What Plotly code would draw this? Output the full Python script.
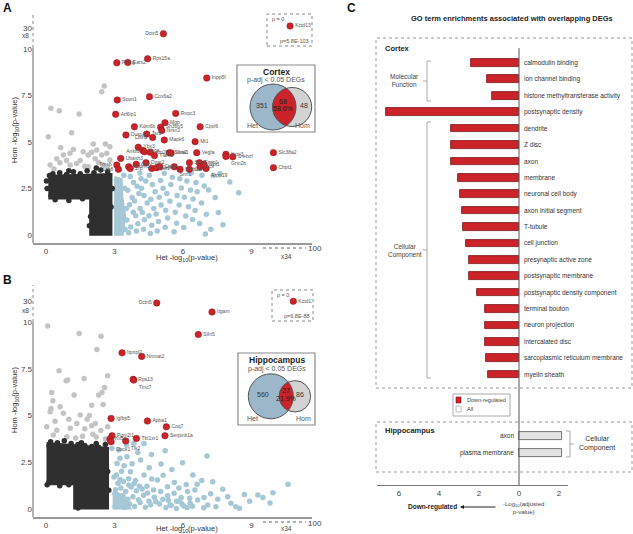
import numpy as np
import plotly.graph_objects as go

W, H = 633, 534
FONT = "Arial, Liberation Sans, sans-serif"

RED = "#cc2229"
RED_EDGE = "#8e1a1e"
BLUE = "#a6c7d5"
GRAY = "#c4c4c4"
DARK = "#2f2f2f"

# ---------------- Panel A : Cortex ----------------
a_red_genes = ["Dctn5", "Kctd13", "Prkcg", "Ears2", "Rps15a", "Inpp5f", "Spon1", "Cox6a2",
               "Arl6ip1", "Rnpc3", "Kdm6b", "Mgp", "Sh3bp5", "Nrsn2", "Cpsf6", "Dusp1",
               "Tsr1", "Cbln2", "Mapk6", "Mt1", "Ybx3", "Hpca", "Ankrd", "Atp2b", "Tiam1",
               "Sms2", "Gria1", "Vegfa", "Ubash3", "Tmsb", "Lrp8", "Smim10", "Zfp", "Gpr",
               "Dgat2", "Nptx1", "Celsr3", "Cttn3", "Snrf1", "Sorbs1", "Scn2", "Cat",
               "Fzgp1", "Dcx", "Arpp19", "Cpt1", "Kcnj3", "Grin2b", "Crebzf", "Slc38a2", "Chpt1"]
a_red_x = [5.14, 10.69, 3.10, 3.58, 4.45, 7.04, 3.12, 4.53, 3.05, 5.68, 3.87, 5.21, 5.02, 5.07,
           6.75, 3.50, 4.41, 4.67, 5.18, 6.53, 4.04, 4.24, 4.31, 4.56, 4.75, 5.40, 5.48, 6.60,
           3.27, 3.10, 3.17, 3.62, 3.69, 3.95, 4.38, 4.63, 4.84, 4.98, 5.62, 5.87, 6.28, 6.28,
           6.72, 6.75, 7.01, 6.92, 7.88, 7.88, 8.18, 9.96, 9.96]
a_red_y = [10.82, 11.24, 9.26, 9.28, 9.48, 8.44, 7.26, 7.44, 6.49, 6.54, 5.82, 6.04, 5.80, 5.62,
           5.82, 5.38, 5.43, 5.24, 5.11, 5.02, 4.72, 4.55, 4.48, 4.45, 4.27, 4.43, 4.41, 4.43,
           4.12, 3.76, 3.53, 3.67, 3.58, 3.80, 3.89, 3.58, 3.62, 3.67, 3.67, 3.53, 3.89, 3.53,
           3.89, 3.67, 3.58, 3.80, 4.34, 4.22, 4.21, 4.43, 3.62]

a_gray_x = [2.55, 2.44, 0.21, 0.58, 1.45, 0.10, 1.12, 2.07, 2.80, 0.64, 0.76, 1.05, 1.63, 1.85,
            2.00, 2.22, 2.44, 2.66, 0.61, 0.18, 1.05, 1.34, 1.85, 2.51, 2.80, 0.47, 1.50, 2.30,
            0.90, 2.70, 1.70, 0.35, 2.15, 1.20, 2.60]
a_gray_y = [8.01, 7.71, 6.81, 6.68, 6.51, 5.29, 5.50, 4.89, 4.75, 4.71, 4.30, 4.39, 4.48, 4.30,
            4.45, 4.57, 4.30, 4.39, 3.89, 3.76, 3.76, 3.85, 3.67, 3.76, 4.03, 4.10, 4.00, 3.90,
            4.00, 3.60, 3.70, 3.55, 4.10, 4.60, 4.90]

a_blue_x = [3.62, 3.71, 3.54, 3.82, 3.66, 3.77, 3.58, 3.83, 3.69, 3.96, 4.02, 3.93, 4.12, 3.88,
            4.07, 3.99, 4.16, 4.27, 4.31, 4.22, 4.43, 4.29, 4.18, 4.37, 4.52, 4.57, 4.63, 4.51,
            4.72, 4.59, 4.78, 4.66, 4.87, 4.93, 4.82, 5.04, 4.96, 5.13, 5.02, 5.22, 5.33, 5.24,
            5.43, 5.29, 5.47, 5.53, 5.61, 5.72, 5.66, 5.83, 5.74, 5.93, 5.86, 6.03, 6.12, 6.24,
            6.06, 6.33, 6.17, 6.42, 6.53, 6.44, 6.62, 6.57, 6.73, 6.81, 6.93, 7.12, 7.33, 7.02,
            7.55, 7.22, 7.41, 8.44, 6.83, 7.62, 3.46, 3.52, 3.44, 3.41, 4.11, 5.18, 6.36, 8.05,
            6.98, 7.75]
a_blue_y = [0.12, 0.43, 0.81, 1.22, 1.63, 2.02, 2.41, 2.83, 3.14, 0.22, 0.61, 1.04, 1.42, 1.83,
            2.23, 2.62, 3.03, 0.31, 0.82, 1.21, 1.72, 2.13, 2.52, 2.91, 3.22, 0.08, 0.52, 1.03,
            1.43, 1.92, 2.33, 2.71, 0.21, 0.72, 1.13, 1.62, 2.03, 2.52, 2.93, 0.42, 0.91, 1.33,
            1.82, 2.23, 2.72, 3.11, 0.18, 0.63, 1.23, 1.61, 2.12, 2.53, 3.02, 0.41, 1.02, 1.52,
            2.03, 2.42, 2.91, 0.83, 1.32, 1.93, 2.32, 2.83, 0.62, 1.72, 2.63, 2.42, 3.21, 1.12,
            1.21, 0.31, 2.02, 2.27, 3.22, 3.31, 0.31, 1.42, 2.52, 3.22, 3.33, 3.32, 3.35, 2.85,
            0.05, 0.55]
a_blue_core_x = [2.98, 3.30, 3.40, 3.28, 3.25, 2.98]
a_blue_core_y = [0.10, 0.10, 1.00, 2.00, 2.95, 3.05]

a_dark_core_x = [0.10, 2.00, 2.00, 2.80, 2.80, 0.10]
a_dark_core_y = [2.05, 2.05, 0.10, 0.10, 3.20, 3.10]
a_dark_x = [0.30, 0.60, 0.90, 1.20, 1.50, 1.80, 2.10, 2.40, 2.70, 0.15, 1.00, 2.20, 0.40, 1.00,
            1.60, 0.05, 0.02, 2.85, 2.90, 1.95, 1.90]
a_dark_y = [3.30, 3.35, 3.25, 3.40, 3.30, 3.45, 3.35, 3.50, 3.40, 3.20, 3.45, 3.60, 1.90, 1.85,
            1.95, 2.50, 2.90, 1.50, 2.50, 1.00, 0.50]

# ---------------- Panel B : Hippocampus ----------------
b_red_genes = ["Dctn5", "Itgam", "Slfn5", "Itpripl2", "Nmnat2", "Rps13", "Tmc7", "Igfbp5",
               "Apba1", "Coq7", "Serpinb1a", "Tbl1xr1", "Tlk2", "Pgm2l1", "Kif5c", "Dock1", "Kctd13"]
b_red_x = [4.85, 7.27, 6.67, 3.33, 4.19, 3.82, 3.84, 2.85, 4.44, 5.27, 5.21, 3.96, 3.49, 2.89,
           2.80, 2.85, 10.83]
b_red_y = [11.03, 10.55, 9.34, 8.36, 8.17, 6.94, 6.90, 4.85, 4.71, 4.40, 3.92, 3.78, 3.64, 3.92,
           3.74, 3.60, 11.12]

b_gray_x = [0.07, 1.45, 2.41, 2.23, 0.57, 0.88, 1.67, 1.23, 2.70, 2.56, 0.25, 2.00, 0.62, 0.18,
            0.76, 1.50, 1.35, 2.16, 0.03, 0.47, 1.06, 1.70, 2.00, 2.40, 0.32, 0.91, 1.60, 2.20,
            2.60, 1.90, 2.50, 0.40, 1.00, 0.95, 1.80, 2.70, 0.30, 1.30, 2.05, 0.22, 2.45, 2.30]
b_gray_y = [9.80, 9.39, 9.25, 8.54, 7.40, 6.86, 6.99, 6.10, 7.13, 6.51, 6.24, 5.56, 5.47, 5.20,
            5.12, 5.03, 4.58, 4.58, 4.40, 4.22, 4.32, 4.30, 4.45, 4.20, 3.96, 3.87, 3.90, 3.85,
            3.75, 5.00, 5.60, 4.70, 4.80, 6.90, 4.80, 4.40, 5.80, 3.80, 4.00, 5.38, 6.24, 6.10]

b_blue_x = [7.05, 5.98, 7.30, 7.74, 8.69, 9.28, 9.94, 10.60, 9.50, 8.10, 8.47, 7.96, 7.44, 7.08,
            6.64, 6.20, 5.61, 5.32, 4.88, 4.29, 3.70, 4.14, 3.55, 3.19, 4.29, 3.85, 3.11, 2.89,
            5.12, 5.43, 5.72, 6.03, 6.31, 6.92, 5.02, 5.33, 5.92, 6.52, 3.62, 3.92, 4.63, 5.13,
            5.62, 6.14, 3.42, 3.77, 4.52, 5.04, 5.51, 6.43, 3.24, 4.62, 6.82, 7.52, 8.92, 9.81,
            6.91, 5.22, 3.52, 4.02, 3.08, 3.31, 4.42, 4.71, 5.82, 6.62, 7.21, 8.31,
            3.02, 3.21, 3.43, 3.66, 3.88, 4.12, 4.35, 4.58, 4.81, 3.12, 3.36, 3.58, 3.81, 4.05,
            4.27, 4.51, 4.74, 4.97, 3.05, 3.28, 3.49, 3.73, 3.96, 4.21, 4.45, 3.15, 3.39, 3.63,
            3.86, 4.09, 2.98, 3.24, 5.25, 5.48, 5.71, 5.95, 6.18, 6.41, 5.36, 5.84, 6.29]
b_blue_y = [2.83, 2.48, 1.46, 1.05, 0.78, 0.75, 0.87, 1.32, 0.62, 0.30, 0.04, 0.66, 0.12, 0.21,
            0.48, 0.93, 0.84, 1.19, 1.55, 1.82, 1.99, 2.62, 2.80, 3.16, 3.51, 3.51, 2.44, 3.24,
            0.52, 0.21, 0.41, 0.16, 0.32, 0.61, 0.93, 0.71, 0.62, 1.02, 1.62, 1.52, 1.61, 1.81,
            1.42, 1.31, 2.31, 2.42, 2.21, 2.41, 2.12, 1.82, 2.72, 2.92, 1.52, 0.52, 0.42, 0.32,
            0.06, 3.12, 3.42, 3.02, 1.82, 2.02, 1.22, 1.02, 1.12, 1.32, 0.82, 0.12,
            0.12, 0.31, 0.08, 0.27, 0.13, 0.34, 0.09, 0.22, 0.38, 0.58, 0.71, 0.52, 0.66, 0.49,
            0.74, 0.41, 0.63, 0.27, 1.03, 1.12, 0.94, 1.18, 0.97, 1.07, 0.86, 1.38, 1.47, 1.29,
            1.36, 1.22, 1.71, 1.58, 0.07, 0.19, 0.03, 0.26, 0.08, 0.14, 0.47, 0.42, 0.58]
b_blue_core_x = [2.92, 3.60, 3.40, 2.92]
b_blue_core_y = [0.10, 0.10, 0.60, 0.90]

b_dark_core_x = [0.02, 1.30, 1.30, 2.65, 2.65, 0.02]
b_dark_core_y = [1.40, 1.40, 0.10, 0.10, 3.20, 3.45]
b_dark_x = [0.20, 0.50, 0.80, 1.10, 1.40, 1.70, 2.00, 2.30, 2.60, 0.05, 0.60, 1.00, 1.40, 2.70,
            2.75, 1.55, 2.20]
b_dark_y = [3.60, 3.55, 3.65, 3.50, 3.45, 3.40, 3.35, 3.30, 3.45, 1.30, 1.25, 1.30, 0.05, 2.00,
            1.00, 3.55, 3.50]

# axis tick labels (scatter panels)
sc_xtick_vals = [0, 3, 6, 9]
sc_xtick_text = ["0", "3", "6", "9"]
sc_ytick_vals = [0, 2.5, 5, 7.5, 10, 11.13]
sc_ytick_text = ["0", "2.5", "5", "7.5", "10", "30"]

# Venn counts
venn_cortex = {"het": "351", "both": "68", "pct": "58.6%", "hom": "48"}
venn_hippo = {"het": "560", "both": "27", "pct": "21.9%", "hom": "86"}

# ---------------- Panel C : GO terms ----------------
c_cortex_terms = ["calmodulin binding", "ion channel binding", "histone methyltransferase activity",
                  "postsynaptic density", "dendrite", "Z disc", "axon", "membrane",
                  "neuronal cell body", "axon initial segment", "T-tubule", "cell junction",
                  "presynaptic active zone", "postsynaptic membrane",
                  "postsynaptic density component", "terminal bouton", "neuron projection",
                  "intercalated disc", "sarcoplasmic reticulum membrane", "myelin sheath"]
c_cortex_vals = [2.4, 1.6, 1.35, 6.65, 3.4, 3.4, 3.4, 3.05, 2.95, 2.85, 2.8, 2.65, 2.5, 2.5,
                 2.1, 1.7, 1.7, 1.7, 1.65, 1.55]
c_hippo_terms = ["axon", "plasma membrane"]
c_hippo_vals = [2.15, 2.15]
c_xtick_vals = [-6, -4, -2, 0, 2]
c_xtick_text = ["6", "4", "2", "0", "2"]

# ====================================================================
fig = go.Figure()


def P(xp, yp):
    return xp / W, 1 - yp / H


def ann(xp, yp, text, size=7, color="#333", bold=False, xanchor="center", yanchor="middle",
        angle=0):
    x, y = P(xp, yp)
    if bold:
        text = "<b>" + text + "</b>"
    fig.add_annotation(x=x, y=y, xref="paper", yref="paper", text=text, showarrow=False,
                       textangle=angle, xanchor=xanchor, yanchor=yanchor,
                       font=dict(size=size, color=color, family=FONT))


def line(x0, y0, x1, y1, color="#999", width=1, dash="solid"):
    a0, b0 = P(x0, y0)
    a1, b1 = P(x1, y1)
    fig.add_shape(type="line", xref="paper", yref="paper", x0=a0, y0=b0, x1=a1, y1=b1,
                  line=dict(color=color, width=width, dash=dash))


def rect(x0, y0, x1, y1, line_color="#888", width=1, fill="rgba(0,0,0,0)", dash="solid"):
    a0, b0 = P(x0, y0)
    a1, b1 = P(x1, y1)
    fig.add_shape(type="rect", xref="paper", yref="paper", x0=a0, y0=b1, x1=a1, y1=b0,
                  line=dict(color=line_color, width=width, dash=dash), fillcolor=fill)


def circle(cx, cy, r, fill, edge="#555"):
    fig.add_shape(type="circle", xref="paper", yref="paper",
                  x0=(cx - r) / W, x1=(cx + r) / W, y0=1 - (cy + r) / H, y1=1 - (cy - r) / H,
                  line=dict(color=edge, width=1), fillcolor=fill)


def lens(c1x, c2x, cy, r1, r2, fill):
    d = c2x - c1x
    a = (d * d + r1 * r1 - r2 * r2) / (2 * d)
    h = np.sqrt(r1 * r1 - a * a)
    t1 = np.arctan2(h, a)
    th1 = np.linspace(-t1, t1, 40)
    t2 = np.arctan2(h, a - d)
    th2 = np.linspace(t2, 2 * np.pi - t2, 40)
    xs = np.concatenate([c1x + r1 * np.cos(th1), c2x + r2 * np.cos(th2)])
    ys = np.concatenate([cy + r1 * np.sin(th1), cy + r2 * np.sin(th2)])
    pts = [f"{x / W:.5f},{1 - y / H:.5f}" for x, y in zip(xs, ys)]
    fig.add_shape(type="path", xref="paper", yref="paper", path="M " + " L ".join(pts) + " Z",
                  fillcolor=fill, line=dict(color="#555", width=1))


def scatter_panel(xa, ya, blue_core, blue, gray, dark_core, dark, red, left_lbl, below_lbl):
    fig.add_trace(go.Scatter(x=blue_core[0], y=blue_core[1], mode="lines", fill="toself",
                             fillcolor=BLUE, line=dict(color=BLUE, width=5),
                             xaxis=xa, yaxis=ya, hoverinfo="skip", showlegend=False))
    fig.add_trace(go.Scatter(x=blue[0], y=blue[1], mode="markers",
                             marker=dict(color=BLUE, size=5.5), xaxis=xa, yaxis=ya,
                             showlegend=False))
    fig.add_trace(go.Scatter(x=gray[0], y=gray[1], mode="markers",
                             marker=dict(color=GRAY, size=5.5), xaxis=xa, yaxis=ya,
                             showlegend=False))
    fig.add_trace(go.Scatter(x=dark_core[0], y=dark_core[1], mode="lines", fill="toself",
                             fillcolor=DARK, line=dict(color=DARK, width=5),
                             xaxis=xa, yaxis=ya, hoverinfo="skip", showlegend=False))
    fig.add_trace(go.Scatter(x=dark[0], y=dark[1], mode="markers",
                             marker=dict(color=DARK, size=5.5), xaxis=xa, yaxis=ya,
                             showlegend=False))
    genes, rx, ry = red
    pos = []
    for g in genes:
        if g in left_lbl:
            pos.append("middle left")
        elif g in below_lbl:
            pos.append("bottom right")
        else:
            pos.append("middle right")
    fig.add_trace(go.Scatter(x=rx, y=ry, mode="markers+text", text=genes, textposition=pos,
                             textfont=dict(size=5, color="#555", family=FONT),
                             marker=dict(color=RED, size=6.5, line=dict(color=RED_EDGE, width=0.5)),
                             xaxis=xa, yaxis=ya, showlegend=False))


scatter_panel("x", "y", (a_blue_core_x, a_blue_core_y), (a_blue_x, a_blue_y),
              (a_gray_x, a_gray_y), (a_dark_core_x, a_dark_core_y), (a_dark_x, a_dark_y),
              (a_red_genes, a_red_x, a_red_y),
              {"Dctn5", "Cbln2", "Ankrd", "Tmsb", "Lrp8"}, {"Grin2b", "Snrf1", "Arpp19"})
scatter_panel("x2", "y2", (b_blue_core_x, b_blue_core_y), (b_blue_x, b_blue_y),
              (b_gray_x, b_gray_y), (b_dark_core_x, b_dark_core_y), (b_dark_x, b_dark_y),
              (b_red_genes, b_red_x, b_red_y),
              {"Dctn5"}, {"Tmc7", "Dock1", "Tlk2"})

# GO bars
cortex_pos = list(range(len(c_cortex_terms)))
hippo_pos = [22.74 + 1.04 * j for j in range(len(c_hippo_terms))]
fig.add_trace(go.Bar(x=[-v for v in c_cortex_vals], y=cortex_pos, orientation="h", width=0.47,
                     marker=dict(color=RED, line=dict(color="#7a1518", width=0.8)),
                     xaxis="x3", yaxis="y3", showlegend=False))
fig.add_trace(go.Bar(x=c_hippo_vals, y=hippo_pos, orientation="h", width=0.5,
                     marker=dict(color="#e2e2e2", line=dict(color="#555", width=0.8)),
                     xaxis="x3", yaxis="y3", showlegend=False))
for t, yv in zip(c_cortex_terms, cortex_pos):
    fig.add_annotation(x=0.15, y=yv, xref="x3", yref="y3", text=t, showarrow=False,
                       xanchor="left", font=dict(size=6.5, color="#333", family=FONT))
for t, yv in zip(c_hippo_terms, hippo_pos):
    fig.add_annotation(x=-0.15, y=yv, xref="x3", yref="y3", text=t, showarrow=False,
                       xanchor="right", font=dict(size=6.5, color="#333", family=FONT))
fig.add_shape(type="line", xref="x3", yref="y3", x0=0, x1=0, y0=-0.9, y1=25.73,
              line=dict(color="#555", width=1))

axcommon = dict(showgrid=False, zeroline=False, ticks="", tickfont=dict(size=8, color="#444", family=FONT))
fig.update_layout(
    width=W, height=H, margin=dict(l=0, r=0, t=0, b=0),
    paper_bgcolor="white", plot_bgcolor="white", bargap=0,
    font=dict(family=FONT),
    xaxis=dict(domain=[33 / W, 312 / W], range=[-0.57, 11.65], anchor="y", showline=True,
               linecolor="#9a9a9a", linewidth=1.5, tickvals=sc_xtick_vals, ticktext=sc_xtick_text,
               **axcommon),
    yaxis=dict(domain=[1 - 243 / H, 1 - 10 / H], range=[-0.43, 12.1], anchor="x", showline=False,
               tickvals=sc_ytick_vals, ticktext=sc_ytick_text, **axcommon),
    xaxis2=dict(domain=[33 / W, 312 / W], range=[-0.57, 11.65], anchor="y2", showline=True,
                linecolor="#9a9a9a", linewidth=1.5, tickvals=sc_xtick_vals, ticktext=sc_xtick_text,
                **axcommon),
    yaxis2=dict(domain=[1 - 517 / H, 1 - 283 / H], range=[-0.43, 12.1], anchor="x2",
                showline=False, tickvals=sc_ytick_vals, ticktext=sc_ytick_text, **axcommon),
    xaxis3=dict(domain=[377 / W, 568 / W], range=[-7.1, 2.45], anchor="y3", showline=True,
                linecolor="#777", linewidth=1, tickvals=c_xtick_vals, ticktext=c_xtick_text,
                **axcommon),
    yaxis3=dict(domain=[1 - 485 / H, 1 - 38 / H], range=[25.73, -1.52], anchor="x3",
                visible=False),
)

# ---- scatter panel decorations ----
for top, brk, bot, xlab_y, tick_y, arr_y, x34_y, kbox, ptxt, ylab_y in [
        (10, 48, 243, 258, 249, 248, 256, (267, 14, 312, 46), "p=5.8E-103", 130),
        (283, 322, 517, 529, 523, 522, 528, (272, 290, 313, 321), "p=6.8E-88", 400)]:
    line(33, bot, 33, brk, color="#9a9a9a", width=1.5)
    line(33, brk, 33, top + 2, color="#888", width=1, dash="dot")
    ann(25, brk - 12, "x8", size=6.5, color="#444")
    ann(315, tick_y, "100", size=8, color="#444")
    line(263, arr_y, 306, arr_y, color="#666", width=1, dash="dot")
    ann(286, x34_y, "x34", size=6.5, color="#444")
    ann(187, xlab_y, "Het -log<sub>10</sub>(p-value)", size=7.5, color="#333")
    ann(15, ylab_y, "Hom -log<sub>10</sub>(p-value)", size=7.5, color="#333", angle=-90)
    rect(kbox[0], kbox[1], kbox[2], kbox[3], line_color="#888", width=1, dash="dot")
    ann(kbox[0] + 3, kbox[1] + 5, "p = 0", size=5.5, color="#555", xanchor="left")
    ann(kbox[2] - 1, kbox[3] - 5, ptxt, size=5.5, color="#555", xanchor="right")

# Venn insets
for (bx0, by0, bx1, by1, title, c1, c2, r1, r2, cy, vals, tx) in [
        (237, 65, 315, 132, "Cortex", 273.0, 292.2, 23.0, 19.5, 107.0, venn_cortex,
         (262, 283, 304, 252, 302)),
        (238, 353, 315, 425, "Hippocampus", 270.8, 295.0, 22.5, 15.7, 396.3, venn_hippo,
         (263, 286, 300, 252, 303))]:
    rect(bx0, by0, bx1, by1, line_color="#8a8a8a", width=1.2, fill="white")
    ann((bx0 + bx1) / 2, by0 + 7, title, size=8.5, color="#222", bold=True)
    ann((bx0 + bx1) / 2, by0 + 15.5, "p-adj &lt; 0.05 DEGs", size=7, color="#555")
    circle(c1, cy, r1, "#9db7ca")
    circle(c2, cy, r2, "#d2d2d2")
    lens(c1, c2, cy, r1, r2, RED)
    ann(tx[0], cy - 2, vals["het"], size=7, color="#333")
    ann(tx[1], cy - 6, vals["both"], size=7, color="#222")
    ann(tx[1], cy + 2, vals["pct"], size=7, color="#222")
    ann(tx[2], cy - 2, vals["hom"], size=7, color="#333")
    ann(tx[3], by1 - 7, "Het", size=7, color="#555")
    ann(tx[4], by1 - 7, "Hom", size=7, color="#555")

ann(1, 8, "A", size=12, color="#111", bold=True, xanchor="left")
ann(1, 280, "B", size=12, color="#111", bold=True, xanchor="left")
ann(345, 8, "C", size=12, color="#111", bold=True, xanchor="left")

# ---- GO panel decorations ----
ann(512, 19, "GO term enrichments associated with overlapping DEGs", size=7.5, color="#222",
    bold=True)
rect(376, 38, 632, 388, line_color="#999", width=1, dash="dot")
rect(376, 422, 632, 472, line_color="#999", width=1, dash="dot")
ann(383, 48, "Cortex", size=7.5, color="#222", bold=True, xanchor="left")
ann(383, 430, "Hippocampus", size=7.5, color="#222", bold=True, xanchor="left")

BR = "#aaaaaa"
line(427, 61, 427, 101, BR)
line(427, 61, 431, 61, BR)
line(427, 101, 431, 101, BR)
line(423, 81, 427, 81, BR)
ann(405, 80, "Molecular<br>Function", size=6.5, color="#444")
line(427, 122, 427, 378, BR)
line(427, 122, 431, 122, BR)
line(427, 378, 431, 378, BR)
line(423, 250, 427, 250, BR)
ann(405, 251, "Cellular<br>Component", size=6.5, color="#444")
line(570, 431, 570, 457, BR)
line(566, 431, 570, 431, BR)
line(566, 457, 570, 457, BR)
line(570, 444, 574, 444, BR)
ann(597, 443, "Cellular<br>Component", size=7, color="#333")

# legend
rect(453, 394, 510, 416, line_color="#aaa", width=1, fill="white")
rect(456, 397, 461, 403, line_color="#7a1518", width=0.6, fill=RED)
rect(456, 406, 461, 412, line_color="#999", width=0.6, fill="white")
ann(465, 400, "Down-regulated", size=5.5, color="#444", xanchor="left")
ann(465, 409, "All", size=5.5, color="#444", xanchor="left")

ann(432, 507, "Down-regulated", size=6.5, color="#222", bold=True)
x, y = P(460, 507)
fig.add_annotation(x=x, y=y, xref="paper", yref="paper", text="", showarrow=True, ax=37, ay=0,
                   arrowhead=2, arrowsize=0.8, arrowwidth=1, arrowcolor="#222")
ann(523, 508, "-Log<sub>10</sub>(adjusted<br>p-value)", size=6, color="#444")

fig.write_html("out.html", config={"displayModeBar": False},
               post_script="document.body.style.margin='0px';document.body.style.overflow='hidden';")
